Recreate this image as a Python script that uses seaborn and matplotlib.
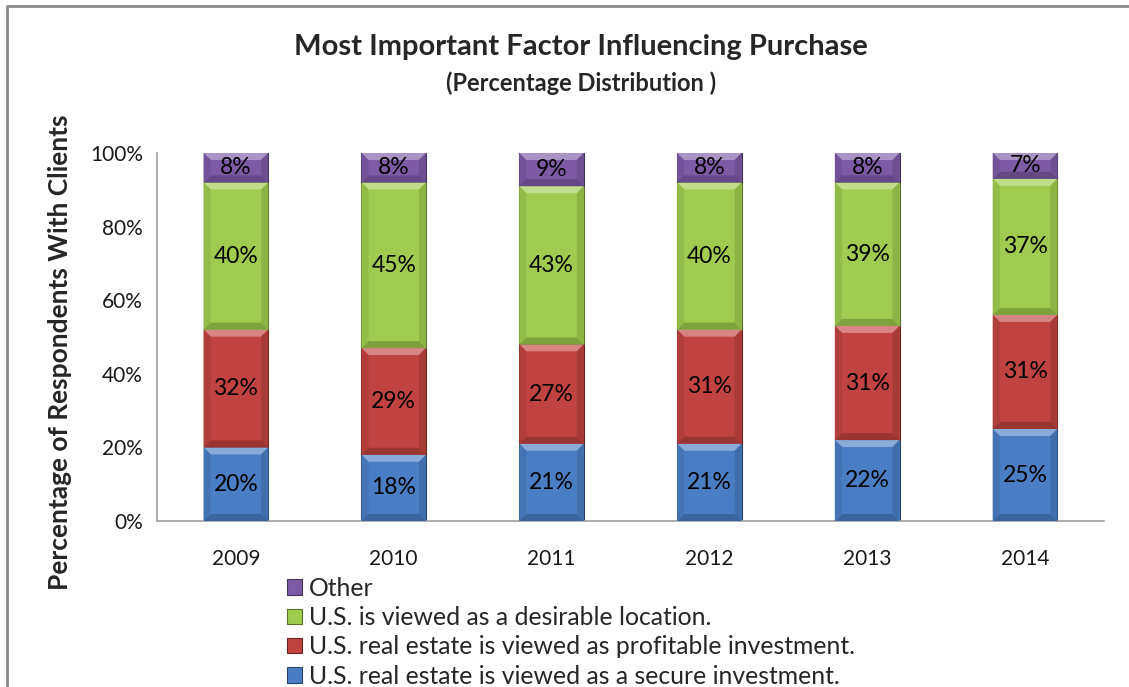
import numpy as np
import pandas as pd
import matplotlib
matplotlib.use("Agg")
import matplotlib.pyplot as plt
from matplotlib.patches import Polygon
from matplotlib.lines import Line2D
from matplotlib.colors import to_rgb
import seaborn as sns

# --- data ---
years = ["2009", "2010", "2011", "2012", "2013", "2014"]
secure = [20, 18, 21, 21, 22, 25]
profitable = [32, 29, 27, 31, 31, 31]
desirable = [40, 45, 43, 40, 39, 37]
other = [8, 8, 9, 8, 8, 7]

series_labels = [
    "U.S. real estate is viewed as a secure investment.",
    "U.S. real estate is viewed as profitable investment.",
    "U.S. is viewed as a desirable location.",
    "Other",
]
series_colors = ["#4A7EC4", "#C0433F", "#A0CB4E", "#7C5AA6"]

sns.set_theme(style="white")
plt.rcParams["font.family"] = ["Lato", "DejaVu Sans"]

W, H = 1129, 687
fig = plt.figure(figsize=(W / 100, H / 100), dpi=100)
ax = fig.add_axes([157 / W, 1 - 521 / H, (1104 - 157) / W, (521 - 153) / H])


def shade(color, f):
    r, g, b = to_rgb(color)
    if f > 0:
        return (r + (1 - r) * f, g + (1 - g) * f, b + (1 - b) * f)
    return (r * (1 + f), g * (1 + f), b * (1 + f))


bottoms = np.zeros(len(years))
containers = []
for vals, lab, col in zip([secure, profitable, desirable, other], series_labels, series_colors):
    sns.barplot(x=years, y=vals, bottom=bottoms.copy(), color=col, saturation=1,
                width=0.41, label=lab, ax=ax, edgecolor=shade(col, -0.45), linewidth=0.8)
    containers.append((ax.containers[-1], vals, col))
    bottoms += np.array(vals)
if ax.get_legend() is not None:
    ax.get_legend().remove()

# bevel look: light top strip, shaded sides and bottom on every segment
bx, by = 0.045, 1.9
for cont, vals, col in containers:
    for p in cont.patches:
        x0, y0 = p.get_x(), p.get_y()
        w, h = p.get_width(), p.get_height()
        x1, y1 = x0 + w, y0 + h
        ax.add_patch(Polygon([(x0, y1), (x1, y1), (x1 - bx, y1 - by), (x0 + bx, y1 - by)],
                             closed=True, facecolor=shade(col, 0.35), edgecolor="none", zorder=3))
        ax.add_patch(Polygon([(x0, y0), (x1, y0), (x1 - bx, y0 + by), (x0 + bx, y0 + by)],
                             closed=True, facecolor=shade(col, -0.2), edgecolor="none", zorder=3))
        ax.add_patch(Polygon([(x0, y0), (x0 + bx, y0 + by), (x0 + bx, y1 - by), (x0, y1)],
                             closed=True, facecolor=shade(col, -0.08), edgecolor="none", zorder=3))
        ax.add_patch(Polygon([(x1, y0), (x1 - bx, y0 + by), (x1 - bx, y1 - by), (x1, y1)],
                             closed=True, facecolor=shade(col, -0.12), edgecolor="none", zorder=3))
    ax.bar_label(cont, labels=[f"{v}%" for v in vals], label_type="center",
                 fontsize=16.5, color="black", zorder=5)

ax.set_ylim(0, 100)
ax.set_xlim(-0.5, len(years) - 0.5)
ax.set_yticks(range(0, 101, 20))
ax.set_yticklabels([f"{t}%" for t in range(0, 101, 20)], fontsize=15, color="#1a1a1a")
ax.tick_params(axis="x", labelsize=15, colors="#1a1a1a", length=0, pad=20)
ax.tick_params(axis="y", length=0, pad=10)
ax.set_xlabel("")
ax.set_ylabel("Percentage of Respondents With Clients", fontsize=19, fontweight="bold")
ax.yaxis.set_label_coords((72 - 157) / 947, (521 - 352) / 368)
for s in ["top", "right"]:
    ax.spines[s].set_visible(False)
for s in ["left", "bottom"]:
    ax.spines[s].set_color("#a0a0a0")
    ax.spines[s].set_linewidth(1.2)

fig.text(581 / W, 1 - 47 / H, "Most Important Factor Influencing Purchase",
         ha="center", va="center", fontsize=21, fontweight="bold")
fig.text(581 / W, 1 - 83 / H, "(Percentage Distribution )",
         ha="center", va="center", fontsize=17, fontweight="bold")

handles, labels = ax.get_legend_handles_labels()
fig.legend(handles[::-1], labels[::-1], loc="upper left",
           bbox_to_anchor=(287 / W, 1 - 577 / H), frameon=False, fontsize=17.8,
           handlelength=0.6, handleheight=0.6, handletextpad=0.3, labelspacing=0.25,
           borderpad=0, borderaxespad=0)

# chart frame (left and top edges visible)
fig.add_artist(Line2D([7 / W, 7 / W, 1], [0, 1 - 6 / H, 1 - 6 / H],
                      transform=fig.transFigure, color="#8a8a8a", linewidth=2))

fig.savefig("out.png", dpi=100)
